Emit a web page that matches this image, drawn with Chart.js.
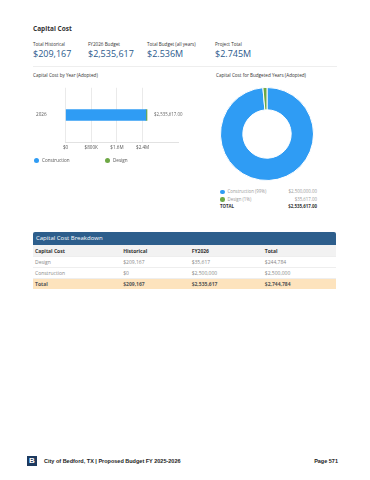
<!DOCTYPE html>
<html>
<head>
<meta charset="utf-8">
<script src="https://cdn.jsdelivr.net/npm/chart.js@4.4.0/dist/chart.umd.min.js"></script>
<style>
  body { margin: 0; width: 370px; height: 480px; background: #fff; font-family: "Open Sans", sans-serif; position: relative; overflow: hidden; }
  .abs { position: absolute; white-space: nowrap; }
  .lbl { font-size: 4.6px; color: #333; }
  .big { font-size: 9px; color: #2b5a8c; }
  .dot { display: inline-block; width: 5px; height: 5px; border-radius: 50%; vertical-align: middle; margin-right: 3px; }
  table { border-collapse: collapse; font-size: 5px; }
  td { padding: 0 2px; height: 10px; border-bottom: 1px solid #eee; color: #888; }
  tr.head td { background: #f2f2f2; color: #333; font-weight: bold; height: 11px; }
  tr.total td { background: #fde3bd; color: #555; font-weight: bold; border-bottom: none; }
</style>
</head>
<body>
<div class="abs" style="left:33px;top:24px;font-size:6.5px;font-weight:bold;color:#333;">Capital Cost</div>

<div class="abs lbl" style="left:33px;top:41px;">Total Historical</div>
<div class="abs lbl" style="left:88px;top:41px;">FY2026 Budget</div>
<div class="abs lbl" style="left:147px;top:41px;">Total Budget (all years)</div>
<div class="abs lbl" style="left:215px;top:41px;">Project Total</div>
<div class="abs big" style="left:33px;top:47px;">$209,167</div>
<div class="abs big" style="left:88px;top:47px;">$2,535,617</div>
<div class="abs big" style="left:147px;top:47px;">$2.536M</div>
<div class="abs big" style="left:215px;top:47px;">$2.745M</div>
<div class="abs" style="left:33px;top:66px;width:304px;border-top:1px solid #eee;"></div>

<div class="abs lbl" style="left:33px;top:72px;">Capital Cost by Year (Adopted)</div>
<div class="abs lbl" style="left:216px;top:72px;">Capital Cost for Budgeted Years (Adopted)</div>

<div class="abs" style="left:17px;top:66px;width:173px;height:98px;"><canvas id="barChart" width="173" height="98"></canvas></div>
<div class="abs lbl" style="left:34px;top:157px;color:#555;"><span class="dot" style="background:#2f9cf4"></span>Construction</div>
<div class="abs lbl" style="left:105px;top:157px;color:#555;"><span class="dot" style="background:#6ea845"></span>Design</div>

<div class="abs" style="left:220px;top:87px;width:94px;height:94px;"><canvas id="donutChart" width="94" height="94"></canvas></div>
<div id="donutLegend" class="abs" style="left:220px;top:188px;width:97px;font-size:4.4px;"></div>

<div class="abs" style="left:33px;top:232px;width:303px;height:13px;background:#2d5e8c;border-radius:2px 2px 0 0;color:#fff;font-size:6px;line-height:13px;padding-left:3px;box-sizing:border-box;">Capital Cost Breakdown</div>
<table id="breakdown" class="abs" style="left:33px;top:245px;width:303px;"></table>

<div class="abs" style="left:27px;top:456px;width:10px;height:10px;background:#1d3a5f;color:#fff;font-family:'Liberation Sans',sans-serif;font-weight:bold;font-size:8px;line-height:10px;text-align:center;">B</div>
<div class="abs" style="left:44px;top:458px;font-family:'Liberation Sans',sans-serif;font-weight:bold;font-size:5.5px;color:#222;">City of Bedford, TX | Proposed Budget FY 2025-2026</div>
<div class="abs" style="left:300px;top:458px;width:38px;text-align:right;font-family:'Liberation Sans',sans-serif;font-weight:bold;font-size:5.5px;color:#222;">Page 571</div>

<script>
// data
const years = ['2026'];
const categories = ['Construction', 'Design'];
const construction = [2500000];
const design = [35617];
const xTicks = [0, 800000, 1600000, 2400000];
const budgetValues = [2500000, 35617];
const budgetPct = ['99%', '1%'];
const tableRows = ['Design', 'Construction'];
const historical = [209167, 0];
const fy2026 = [35617, 2500000];
const colors = ['#2f9cf4', '#6ea845'];

const money = v => '$' + v.toLocaleString('en-US');
const money2 = v => '$' + v.toLocaleString('en-US', { minimumFractionDigits: 2, maximumFractionDigits: 2 });

function shortMoney(v) {
    if (v === 0) return '$0';
    if (v >= 1000000) return '$' + (v / 1000000) + 'M';
    return '$' + (v / 1000) + 'K';
}

// label with the year total, after the bar
const totalLabel = {
    id: 'totalLabel',
    afterDatasetsDraw(chart) {
        const ctx = chart.ctx;
        const last = chart.getDatasetMeta(chart.data.datasets.length - 1);
        last.data.forEach((bar, i) => {
            const total = construction[i] + design[i];
            ctx.save();
            ctx.font = '4.4px "Open Sans"';
            ctx.fillStyle = '#666';
            ctx.textBaseline = 'middle';
            ctx.fillText(money2(total), bar.x + 7, bar.y);
            ctx.restore();
        });
    }
};

function createBarChart() {
    const ctx = document.getElementById('barChart').getContext('2d');
    new Chart(ctx, {
        type: 'bar',
        data: {
            labels: years,
            datasets: [
                { label: categories[0], data: construction, backgroundColor: colors[0], barThickness: 11 },
                { label: categories[1], data: design, backgroundColor: colors[1], barThickness: 11 }
            ]
        },
        options: {
            indexAxis: 'y',
            responsive: false,
            animation: false,
            layout: { padding: { top: 0, right: 12, left: 0, bottom: 0 } },
            plugins: { legend: { display: false }, tooltip: { enabled: false } },
            scales: {
                x: {
                    stacked: true,
                    min: 0,
                    max: 3500000,
                    afterBuildTicks: axis => { axis.ticks = xTicks.map(v => ({ value: v })); },
                    ticks: { callback: v => shortMoney(v), font: { size: 4.6, family: 'Open Sans' }, color: '#555', padding: 3, maxRotation: 0, autoSkip: false },
                    grid: { color: '#eaeaea', drawTicks: false },
                    border: { color: '#e2e2e2' }
                },
                y: {
                    stacked: true,
                    ticks: { font: { size: 4.6, family: 'Open Sans' }, color: '#555', padding: 19 },
                    grid: { display: false, drawTicks: false },
                    border: { display: false }
                }
            }
        },
        plugins: [totalLabel]
    });
}

function createDonut() {
    const ctx = document.getElementById('donutChart').getContext('2d');
    new Chart(ctx, {
        type: 'doughnut',
        data: {
            labels: categories,
            datasets: [{ data: budgetValues, backgroundColor: colors, borderColor: '#fff', borderWidth: 1, hoverOffset: 0 }]
        },
        options: {
            responsive: false,
            animation: false,
            cutout: '52%',
            plugins: { legend: { display: false }, tooltip: { enabled: false } }
        }
    });
    const total = budgetValues.reduce((a, b) => a + b, 0);
    let html = '';
    categories.forEach((c, i) => {
        html += '<div style="display:flex;justify-content:space-between;height:7.5px;line-height:7.5px;color:#999;">' +
            '<span><span class="dot" style="background:' + colors[i] + ';width:4.5px;height:4.5px;"></span>' + c + ' (' + budgetPct[i] + ')</span>' +
            '<span>' + money2(budgetValues[i]) + '</span></div>';
    });
    html += '<div style="display:flex;justify-content:space-between;line-height:6px;font-weight:bold;color:#333;"><span>TOTAL</span><span>' + money2(total) + '</span></div>';
    document.getElementById('donutLegend').innerHTML = html;
}

function createTable() {
    const widths = [89, 68, 73, 73];
    let html = '<tr class="head">' + ['Capital Cost', 'Historical', 'FY2026', 'Total']
        .map((h, i) => '<td style="width:' + widths[i] + 'px">' + h + '</td>').join('') + '</tr>';
    tableRows.forEach((r, i) => {
        html += '<tr><td>' + r + '</td><td>' + money(historical[i]) + '</td><td>' + money(fy2026[i]) +
            '</td><td>' + money(historical[i] + fy2026[i]) + '</td></tr>';
    });
    const sh = historical.reduce((a, b) => a + b, 0);
    const sf = fy2026.reduce((a, b) => a + b, 0);
    html += '<tr class="total"><td>Total</td><td>' + money(sh) + '</td><td>' + money(sf) + '</td><td>' + money(sh + sf) + '</td></tr>';
    document.getElementById('breakdown').innerHTML = html;
}

createBarChart();
createDonut();
createTable();
</script>
</body>
</html>
